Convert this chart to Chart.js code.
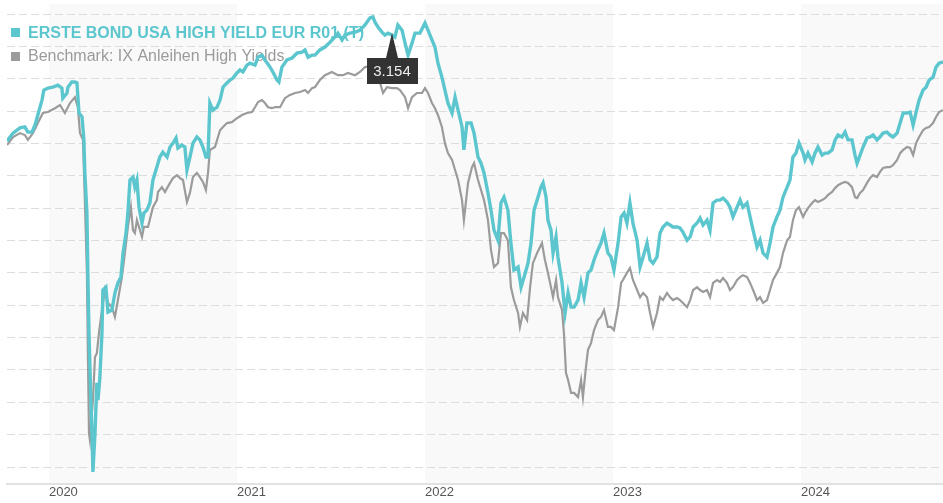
<!DOCTYPE html>
<html>
<head>
<meta charset="utf-8">
<script src="https://cdn.jsdelivr.net/npm/chart.js@4.4.1/dist/chart.umd.min.js"></script>
<style>
    body { margin: 0; background: #fff; }
    #wrap { width: 943px; height: 503px; }
</style>
</head>
<body>
<div id="wrap"><canvas id="perfChart" width="943" height="503"></canvas></div>
<script>
// data (x = decimal year, y = chart units, one unit per grid line)
const fundLabel = 'ERSTE BOND USA HIGH YIELD EUR R01 (T)';
const benchLabel = 'Benchmark: IX Anleihen High Yields';
const yearTicks = [2020, 2021, 2022, 2023, 2024];
const shadedYears = [2020, 2022, 2024];
const tooltipYear = 2021.824;
const tooltipText = '3.154';

const fundYears = [
    2019.777, 2019.809, 2019.846, 2019.872, 2019.888, 2019.910, 2019.926, 2019.941, 2019.963, 2019.973,
    2019.995, 2020.021, 2020.048, 2020.069, 2020.074, 2020.096, 2020.101, 2020.122, 2020.138, 2020.149,
    2020.160, 2020.176, 2020.186, 2020.191, 2020.202, 2020.207, 2020.213, 2020.223, 2020.229, 2020.234,
    2020.245, 2020.255, 2020.261, 2020.271, 2020.282, 2020.287, 2020.303, 2020.314, 2020.335, 2020.351,
    2020.367, 2020.383, 2020.394, 2020.410, 2020.420, 2020.431, 2020.447, 2020.457, 2020.468, 2020.479,
    2020.495, 2020.505, 2020.521, 2020.537, 2020.553, 2020.574, 2020.590, 2020.606, 2020.628, 2020.644,
    2020.660, 2020.676, 2020.686, 2020.707, 2020.723, 2020.734, 2020.750, 2020.766, 2020.787, 2020.803,
    2020.819, 2020.835, 2020.846, 2020.856, 2020.872, 2020.894, 2020.910, 2020.926, 2020.947, 2020.963,
    2020.979, 2021.000, 2021.016, 2021.032, 2021.053, 2021.069, 2021.096, 2021.112, 2021.133, 2021.149,
    2021.176, 2021.191, 2021.213, 2021.223, 2021.239, 2021.266, 2021.293, 2021.319, 2021.346, 2021.362,
    2021.378, 2021.399, 2021.415, 2021.441, 2021.468, 2021.495, 2021.521, 2021.537, 2021.559, 2021.574,
    2021.601, 2021.628, 2021.654, 2021.681, 2021.707, 2021.723, 2021.734, 2021.750, 2021.771, 2021.787,
    2021.803, 2021.824, 2021.840, 2021.856, 2021.878, 2021.894, 2021.910, 2021.931, 2021.947, 2021.973,
    2022.000, 2022.016, 2022.037, 2022.053, 2022.069, 2022.090, 2022.106, 2022.122, 2022.144, 2022.160,
    2022.176, 2022.197, 2022.207, 2022.223, 2022.245, 2022.261, 2022.282, 2022.298, 2022.314, 2022.335,
    2022.351, 2022.367, 2022.388, 2022.404, 2022.420, 2022.441, 2022.457, 2022.473, 2022.495, 2022.511,
    2022.527, 2022.548, 2022.564, 2022.580, 2022.601, 2022.617, 2022.628, 2022.644, 2022.654, 2022.670,
    2022.681, 2022.697, 2022.707, 2022.729, 2022.745, 2022.761, 2022.777, 2022.793, 2022.814, 2022.830,
    2022.846, 2022.867, 2022.883, 2022.899, 2022.920, 2022.936, 2022.952, 2022.973, 2022.989, 2023.005,
    2023.027, 2023.043, 2023.059, 2023.074, 2023.090, 2023.106, 2023.128, 2023.144, 2023.160, 2023.181,
    2023.197, 2023.213, 2023.234, 2023.250, 2023.266, 2023.287, 2023.303, 2023.319, 2023.340, 2023.356,
    2023.372, 2023.394, 2023.410, 2023.426, 2023.447, 2023.463, 2023.479, 2023.500, 2023.516, 2023.532,
    2023.553, 2023.569, 2023.585, 2023.606, 2023.622, 2023.638, 2023.660, 2023.676, 2023.691, 2023.713,
    2023.729, 2023.745, 2023.766, 2023.782, 2023.798, 2023.819, 2023.835, 2023.851, 2023.872, 2023.888,
    2023.904, 2023.926, 2023.941, 2023.957, 2023.973, 2023.989, 2024.011, 2024.021, 2024.037, 2024.059,
    2024.074, 2024.090, 2024.112, 2024.128, 2024.144, 2024.165, 2024.181, 2024.197, 2024.218, 2024.234,
    2024.250, 2024.271, 2024.287, 2024.298, 2024.314, 2024.330, 2024.351, 2024.367, 2024.383, 2024.404,
    2024.420, 2024.436, 2024.457, 2024.473, 2024.489, 2024.511, 2024.527, 2024.543, 2024.564, 2024.580,
    2024.596, 2024.612, 2024.628, 2024.649, 2024.665, 2024.681, 2024.702, 2024.718, 2024.734, 2024.755
];
const fundValues = [
    10.07, 10.32, 10.48, 10.51, 10.35, 10.35, 10.57, 10.88, 11.34, 11.65,
    11.71, 11.74, 11.80, 11.71, 11.40, 11.56, 11.74, 11.90, 11.90, 11.87,
    10.94, 10.82, 10.11, 9.09, 7.85, 6.00, 4.14, 2.07, 1.05, -0.15,
    1.05, 2.60, 2.07, 2.78, 4.14, 5.47, 5.56, 4.79, 4.85, 5.38,
    5.69, 5.87, 6.61, 7.23, 7.85, 8.87, 8.96, 8.65, 8.87, 8.03,
    7.54, 7.85, 7.94, 8.16, 8.87, 9.27, 9.58, 9.73, 9.58, 9.89,
    10.01, 10.17, 9.86, 9.95, 9.89, 9.18, 9.58, 10.01, 10.20, 10.11,
    9.89, 9.58, 9.58, 11.25, 11.03, 11.12, 11.34, 11.74, 11.87, 11.96,
    12.02, 12.18, 12.27, 12.21, 12.42, 12.48, 12.42, 12.67, 12.73, 12.58,
    12.36, 12.21, 11.96, 11.90, 12.36, 12.58, 12.64, 12.79, 12.82, 12.89,
    12.67, 12.73, 12.73, 12.89, 12.98, 13.13, 13.29, 13.41, 13.20, 13.35,
    13.41, 13.44, 13.50, 13.66, 13.88, 13.91, 13.75, 13.60, 13.44, 13.35,
    13.41, 13.35, 13.29, 13.66, 13.50, 13.10, 12.73, 13.10, 13.41, 13.41,
    13.72, 13.50, 13.20, 12.98, 12.48, 12.05, 11.65, 11.25, 10.94, 11.43,
    11.03, 10.51, 9.80, 10.63, 10.63, 10.32, 9.58, 9.39, 9.09, 8.47,
    7.94, 7.32, 7.01, 8.16, 8.34, 7.94, 6.92, 6.09, 6.18, 5.56,
    5.87, 6.30, 6.92, 7.94, 8.34, 8.65, 8.78, 8.34, 7.63, 7.32,
    6.61, 7.11, 6.49, 5.69, 4.76, 5.38, 4.94, 4.94, 5.16, 5.69,
    5.25, 6.00, 6.09, 6.40, 6.71, 6.92, 7.23, 6.61, 6.49, 6.09,
    6.92, 7.73, 7.85, 7.54, 8.16, 7.54, 7.01, 6.18, 6.49, 6.92,
    6.40, 6.30, 6.49, 7.23, 7.42, 7.54, 7.48, 7.42, 7.42, 7.39,
    7.26, 7.01, 7.11, 7.42, 7.54, 7.69, 7.48, 7.63, 7.32, 8.16,
    8.25, 8.25, 8.31, 8.19, 8.03, 7.73, 8.03, 8.25, 8.03, 8.16,
    7.73, 7.32, 6.80, 7.01, 6.61, 6.49, 6.92, 7.42, 7.73, 7.94,
    8.34, 8.65, 8.87, 9.58, 9.70, 10.01, 9.70, 9.49, 9.70, 9.43,
    9.70, 9.89, 9.64, 9.70, 9.70, 9.80, 10.11, 10.26, 10.20, 10.35,
    10.11, 10.11, 9.64, 9.39, 9.64, 9.89, 10.17, 10.20, 10.26, 10.11,
    10.20, 10.32, 10.35, 10.26, 10.20, 10.32, 10.63, 10.94, 10.94, 10.97,
    10.57, 10.97, 11.34, 11.65, 11.74, 11.96, 12.05, 12.36, 12.48, 12.52
];

const benchYears = [
    2019.777, 2019.809, 2019.846, 2019.872, 2019.888, 2019.915, 2019.941, 2019.968, 2019.995, 2020.032,
    2020.059, 2020.085, 2020.112, 2020.138, 2020.154, 2020.165, 2020.181, 2020.191, 2020.202, 2020.207,
    2020.213, 2020.218, 2020.234, 2020.245, 2020.255, 2020.266, 2020.282, 2020.298, 2020.314, 2020.335,
    2020.351, 2020.367, 2020.388, 2020.404, 2020.420, 2020.436, 2020.447, 2020.457, 2020.468, 2020.495,
    2020.505, 2020.527, 2020.553, 2020.574, 2020.580, 2020.601, 2020.617, 2020.644, 2020.660, 2020.681,
    2020.697, 2020.713, 2020.734, 2020.750, 2020.766, 2020.787, 2020.803, 2020.819, 2020.835, 2020.846,
    2020.856, 2020.883, 2020.910, 2020.926, 2020.947, 2020.973, 2021.000, 2021.027, 2021.053, 2021.080,
    2021.096, 2021.112, 2021.133, 2021.149, 2021.165, 2021.186, 2021.202, 2021.229, 2021.255, 2021.282,
    2021.309, 2021.335, 2021.362, 2021.378, 2021.399, 2021.415, 2021.441, 2021.468, 2021.505, 2021.537,
    2021.564, 2021.590, 2021.628, 2021.654, 2021.681, 2021.707, 2021.734, 2021.761, 2021.777, 2021.798,
    2021.824, 2021.851, 2021.867, 2021.894, 2021.910, 2021.931, 2021.957, 2021.984, 2022.000, 2022.016,
    2022.037, 2022.053, 2022.069, 2022.090, 2022.106, 2022.122, 2022.144, 2022.160, 2022.176, 2022.197,
    2022.207, 2022.223, 2022.229, 2022.250, 2022.261, 2022.282, 2022.298, 2022.314, 2022.335, 2022.351,
    2022.367, 2022.388, 2022.404, 2022.420, 2022.441, 2022.457, 2022.473, 2022.495, 2022.505, 2022.521,
    2022.543, 2022.559, 2022.574, 2022.596, 2022.612, 2022.622, 2022.638, 2022.654, 2022.670, 2022.681,
    2022.697, 2022.707, 2022.729, 2022.739, 2022.750, 2022.761, 2022.777, 2022.793, 2022.814, 2022.830,
    2022.840, 2022.856, 2022.867, 2022.883, 2022.899, 2022.920, 2022.936, 2022.952, 2022.973, 2022.989,
    2023.005, 2023.027, 2023.043, 2023.053, 2023.074, 2023.090, 2023.106, 2023.128, 2023.144, 2023.160,
    2023.181, 2023.197, 2023.213, 2023.234, 2023.250, 2023.266, 2023.287, 2023.303, 2023.319, 2023.340,
    2023.356, 2023.372, 2023.394, 2023.410, 2023.426, 2023.447, 2023.463, 2023.479, 2023.500, 2023.516,
    2023.532, 2023.553, 2023.569, 2023.585, 2023.606, 2023.622, 2023.638, 2023.660, 2023.676, 2023.691,
    2023.713, 2023.729, 2023.745, 2023.766, 2023.782, 2023.798, 2023.819, 2023.835, 2023.851, 2023.872,
    2023.888, 2023.904, 2023.926, 2023.941, 2023.957, 2023.973, 2023.989, 2024.011, 2024.021, 2024.037,
    2024.059, 2024.074, 2024.090, 2024.112, 2024.128, 2024.144, 2024.165, 2024.181, 2024.197, 2024.218,
    2024.234, 2024.250, 2024.271, 2024.287, 2024.298, 2024.314, 2024.330, 2024.351, 2024.367, 2024.383,
    2024.404, 2024.420, 2024.436, 2024.457, 2024.473, 2024.489, 2024.511, 2024.527, 2024.543, 2024.564,
    2024.580, 2024.596, 2024.612, 2024.628, 2024.649, 2024.665, 2024.681, 2024.702, 2024.718, 2024.734,
    2024.755
];
const benchValues = [
    9.95, 10.20, 10.32, 10.26, 10.11, 10.32, 10.63, 10.94, 10.97, 11.09,
    11.19, 10.94, 11.25, 11.43, 11.12, 10.32, 10.11, 8.25, 6.00, 3.62,
    1.05, 0.83, 2.07, 3.40, 3.52, 4.14, 4.85, 5.47, 5.07, 4.94,
    4.64, 5.16, 5.87, 6.61, 7.42, 8.03, 7.32, 7.23, 7.63, 7.11,
    7.42, 7.42, 8.03, 8.25, 8.50, 8.65, 8.50, 8.78, 8.93, 9.02,
    8.93, 8.87, 8.19, 8.47, 8.96, 9.09, 8.96, 8.81, 8.56, 9.09,
    9.80, 9.89, 10.41, 10.51, 10.63, 10.66, 10.78, 10.88, 10.94, 10.97,
    11.12, 11.28, 11.34, 11.25, 11.12, 11.09, 11.12, 11.12, 11.40, 11.50,
    11.56, 11.59, 11.65, 11.56, 11.71, 11.74, 11.96, 12.11, 12.21, 12.11,
    12.11, 12.18, 12.11, 12.21, 12.36, 12.39, 12.36, 11.87, 11.56, 11.74,
    11.71, 11.71, 11.65, 11.43, 11.09, 11.43, 11.56, 11.56, 11.71, 11.56,
    11.25, 11.09, 10.88, 10.51, 10.01, 9.70, 9.49, 9.18, 8.87, 8.25,
    7.63, 8.47, 8.78, 9.27, 9.39, 8.87, 8.56, 8.25, 7.63, 6.71,
    6.18, 6.30, 7.23, 7.23, 7.01, 5.56, 5.16, 4.76, 4.33, 4.76,
    4.54, 5.56, 6.30, 6.61, 6.80, 6.92, 6.40, 6.00, 5.56, 5.25,
    5.78, 5.25, 4.85, 4.14, 2.90, 2.69, 2.29, 2.29, 2.16, 2.69,
    2.16, 3.09, 3.62, 3.83, 4.23, 4.54, 4.64, 4.85, 4.33, 4.33,
    4.23, 4.94, 5.69, 5.78, 6.00, 6.15, 5.78, 5.47, 5.25, 5.38,
    5.25, 4.76, 4.33, 4.76, 5.25, 5.16, 5.38, 5.25, 5.16, 5.22,
    5.16, 5.07, 4.94, 5.16, 5.47, 5.56, 5.47, 5.41, 5.47, 5.25,
    5.69, 5.78, 5.72, 5.84, 5.69, 5.47, 5.56, 5.78, 5.87, 5.93,
    5.87, 5.69, 5.47, 5.16, 5.25, 5.07, 5.16, 5.47, 5.78, 6.00,
    6.18, 6.61, 7.01, 7.11, 7.63, 7.94, 8.03, 7.73, 7.85, 8.00,
    8.16, 8.25, 8.19, 8.25, 8.31, 8.41, 8.50, 8.62, 8.71, 8.78,
    8.81, 8.78, 8.65, 8.34, 8.31, 8.47, 8.56, 8.78, 8.93, 9.02,
    8.96, 9.12, 9.24, 9.27, 9.27, 9.33, 9.49, 9.70, 9.80, 9.89,
    9.86, 9.64, 10.01, 10.20, 10.41, 10.48, 10.51, 10.63, 10.82, 10.97,
    11.03
];

const FONT = '"Liberation Sans", Arial, sans-serif';
const teal = '#5cc6ce';
const grey = '#9b9b9b';

function toPoints(xs, ys) {
    return xs.map(function (x, i) { return {x: x, y: ys[i]}; });
}

// light grey band behind every other year
const yearBands = {
    id: 'yearBands',
    beforeDraw(chart) {
        const ctx = chart.ctx, area = chart.chartArea, xs = chart.scales.x;
        ctx.save();
        ctx.fillStyle = '#f9f9f9';
        shadedYears.forEach(function (yr) {
            const x1 = Math.max(xs.getPixelForValue(yr), area.left);
            const x2 = Math.min(xs.getPixelForValue(yr + 1), area.right);
            if (x2 > x1) ctx.fillRect(x1, area.top, x2 - x1, area.bottom - area.top);
        });
        ctx.restore();
    }
};

// legend is drawn under the lines, like in the original
const legendText = {
    id: 'legendText',
    beforeDatasetsDraw(chart) {
        const ctx = chart.ctx;
        ctx.save();
        ctx.textBaseline = 'alphabetic';
        ctx.fillStyle = teal;
        ctx.fillRect(11, 28, 9, 9);
        ctx.font = 'bold 16px ' + FONT;
        ctx.fillText(fundLabel, 28, 38);
        ctx.fillStyle = grey;
        ctx.fillRect(11, 52, 9, 9);
        ctx.font = '16px ' + FONT;
        ctx.fillText(benchLabel, 28, 61);
        ctx.restore();
    }
};

// dark value flag on the fund line
const valueFlag = {
    id: 'valueFlag',
    afterDatasetsDraw(chart) {
        let best = 0;
        fundYears.forEach(function (yr, i) {
            if (Math.abs(yr - tooltipYear) < Math.abs(fundYears[best] - tooltipYear)) best = i;
        });
        const pt = chart.getDatasetMeta(0).data[best];
        const px = Math.round(pt.x), py = Math.round(pt.y) - 2;
        const ctx = chart.ctx;
        ctx.save();
        ctx.fillStyle = '#333333';
        ctx.beginPath();
        ctx.moveTo(px, py);
        ctx.lineTo(px + 6, py + 25);
        ctx.lineTo(px - 6, py + 25);
        ctx.closePath();
        ctx.fill();
        ctx.fillRect(px - 25, py + 25, 51, 26);
        ctx.fillStyle = '#eeeeee';
        ctx.font = '15px ' + FONT;
        ctx.textAlign = 'center';
        ctx.textBaseline = 'middle';
        ctx.fillText(tooltipText, px, py + 39);
        ctx.restore();
    }
};

// chart js
const config = {
    type: 'line',
    data: {
        datasets: [{
            label: fundLabel,
            data: toPoints(fundYears, fundValues),
            borderColor: teal,
            borderWidth: 3.4,
            pointRadius: 0,
            tension: 0,
            fill: false
        }, {
            label: benchLabel,
            data: toPoints(benchYears, benchValues),
            borderColor: grey,
            borderWidth: 2.2,
            pointRadius: 0,
            tension: 0,
            fill: false
        }]
    },
    options: {
        responsive: false,
        animation: false,
        layout: {
            padding: { left: 7, right: 0, top: 4, bottom: 0 }
        },
        plugins: {
            legend: { display: false },
            tooltip: { enabled: false }
        },
        scales: {
            x: {
                type: 'linear',
                min: fundYears[0],
                max: fundYears[fundYears.length - 1],
                afterBuildTicks: function (s) {
                    s.ticks = yearTicks.map(function (v) { return {value: v}; });
                },
                afterFit: function (s) { s.height = 19; },
                ticks: {
                    align: 'start',
                    padding: 1,
                    color: '#555555',
                    autoSkip: false,
                    maxRotation: 0,
                    font: { family: FONT, size: 13 },
                    callback: function (v) { return String(v); }
                },
                grid: { display: false, drawTicks: false },
                border: { display: true, color: '#e2e2e2', width: 2 }
            },
            y: {
                min: -0.525,
                max: 14.31,
                afterBuildTicks: function (s) {
                    const t = [];
                    for (let k = 0; k <= Math.floor(s.max); k++) t.push({value: k});
                    s.ticks = t;
                },
                afterFit: function (s) { s.width = 0; },
                ticks: { display: false },
                grid: { color: '#dddddd', lineWidth: 1, drawTicks: false },
                border: { display: false, dash: [8, 4] }
            }
        }
    },
    plugins: [yearBands, legendText, valueFlag]
};

const perfChart = new Chart(
    document.getElementById('perfChart'),
    config
);
</script>
</body>
</html>
